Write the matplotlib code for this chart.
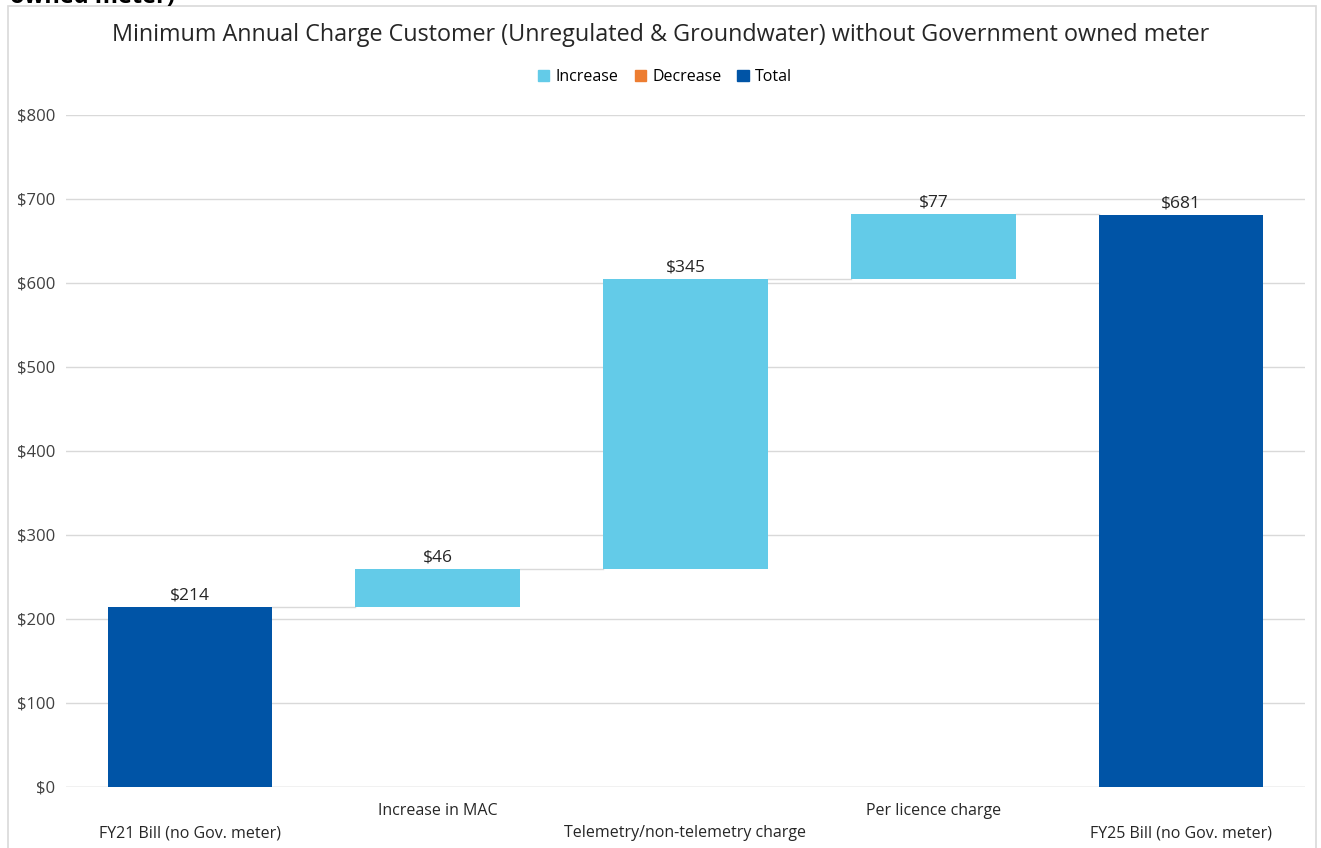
import numpy as np
import matplotlib.pyplot as plt
from matplotlib.patches import Rectangle, Patch

plt.rcParams['font.family'] = ['Open Sans', 'DejaVu Sans']

categories = ['FY21 Bill (no Gov. meter)', 'Increase in MAC', 'Telemetry/non-telemetry charge',
              'Per licence charge', 'FY25 Bill (no Gov. meter)']
values = [214, 46, 345, 77, 681]
kinds = ['total', 'increase', 'increase', 'increase', 'total']
yticks = [0, 100, 200, 300, 400, 500, 600, 700, 800]

c_inc = '#63CBE8'
c_dec = '#ED7D31'
c_tot = '#0054A6'

# bottoms/tops for waterfall
bottoms = []
tops = []
run = 0
for v, k in zip(values, kinds):
    if k == 'total':
        bottoms.append(0)
        tops.append(v)
        run = v
    else:
        bottoms.append(run)
        run = run + v
        tops.append(run)

fig = plt.figure(figsize=(13.21, 8.48), dpi=100)
ax = fig.add_axes([66/1321, 1-787/848, (1305-66)/1321, (787-115)/848])

x = np.arange(len(categories))
w = 0.665
colors = [c_tot if k == 'total' else c_inc for k in kinds]
heights = [t - b for t, b in zip(tops, bottoms)]
ax.bar(x, heights, bottom=bottoms, width=w, color=colors, zorder=3)

# connectors
for i in range(len(x) - 1):
    ax.plot([x[i] + w/2, x[i+1] - w/2], [tops[i], tops[i]], color='#D9D9D9', lw=1, zorder=2)

for i, v in enumerate(values):
    ax.text(x[i], tops[i] + 4, '$%d' % v, ha='center', va='bottom', fontsize=12.5, color='#262626')

ax.set_xlim(-0.5, len(categories) - 0.5)
ax.set_ylim(0, 800)
ax.set_yticks(yticks)
ax.set_yticklabels(['$%d' % t for t in yticks], fontsize=12, color='#404040')
ax.yaxis.grid(True, color='#D9D9D9', lw=1, zorder=0)
ax.set_xticks([])
for s in ax.spines.values():
    s.set_visible(False)
ax.axhline(0, color='#D9D9D9', lw=1, zorder=2)
ax.tick_params(axis='y', length=0, pad=8)

# staggered category labels
for i, c in enumerate(categories):
    yoff = -0.0685 if i % 2 == 0 else -0.0355
    ax.text(x[i], yoff, c, transform=ax.get_xaxis_transform(), ha='center', va='center',
            fontsize=11.5, color='#262626')

fig.text(0.5, 1 - 35/848, 'Minimum Annual Charge Customer (Unregulated & Groundwater) without Government owned meter',
         ha='center', va='center', fontsize=16.8, color='#262626')

handles = [Patch(color=c_inc, label='Increase'), Patch(color=c_dec, label='Decrease'),
           Patch(color=c_tot, label='Total')]
fig.legend(handles=handles, loc='center', bbox_to_anchor=(0.5035, 1 - 77/848), ncol=3, frameon=False,
           fontsize=11.5, handlelength=0.7, handleheight=0.7, handletextpad=0.4, columnspacing=1.0)

# chart frame
fig.patches.append(Rectangle((8/1321, -0.05), (1316-8)/1321, 1 - 6/848 + 0.05,
                             transform=fig.transFigure, fill=False, edgecolor='#D9D9D9', lw=1.2))

# heading above, cut off at top
fig.text(10/1321, 1 - 3/848, 'owned meter)', ha='left', va='baseline', fontsize=17,
         fontweight='bold', color='black')

fig.savefig('out.png', dpi=100)
